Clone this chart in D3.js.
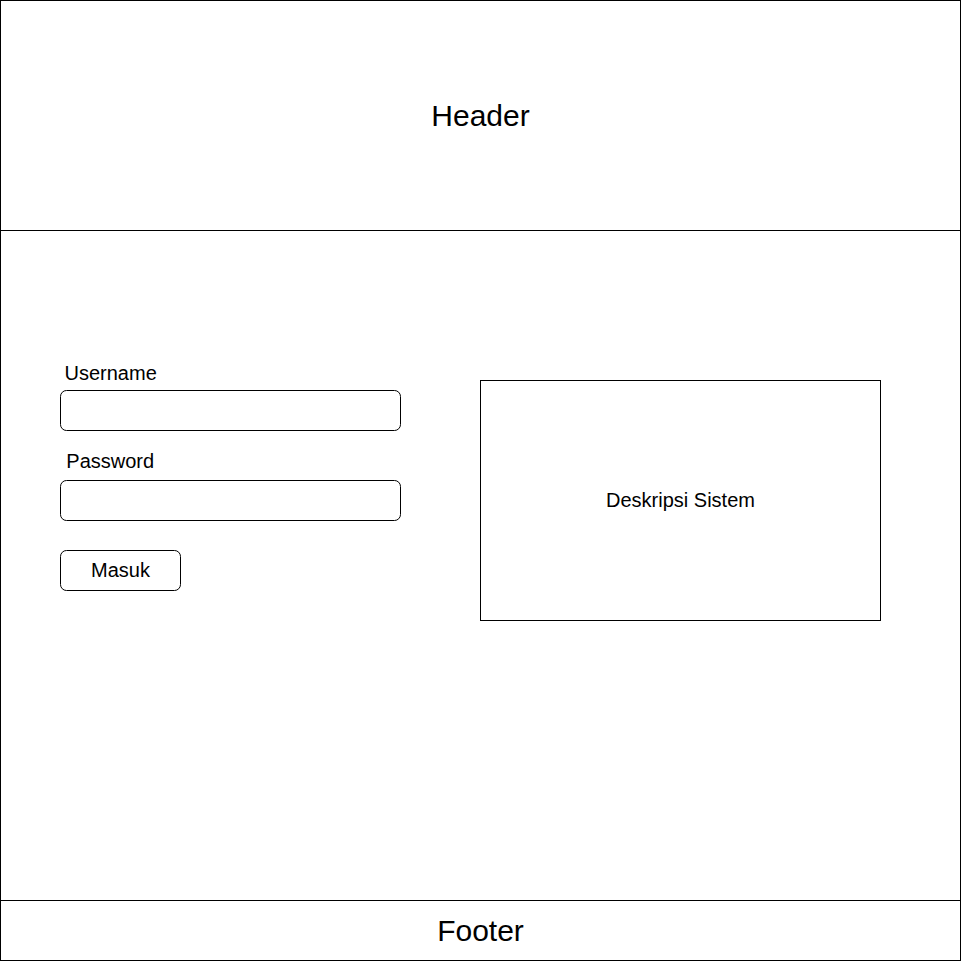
<!DOCTYPE html>
<html>
<head>
<meta charset="utf-8">
<script src="https://cdn.jsdelivr.net/npm/d3@7"></script>
<style>
  html, body { margin: 0; padding: 0; background: #fff; }
  svg { display: block; }
  text { font-family: "Liberation Sans", Arial, Helvetica, sans-serif; fill: #000; }
</style>
</head>
<body>
<svg id="wire"></svg>
<script>
// wireframe values, in grid units of 10px
const sections = [ "Header", "Body", "Footer" ];
const sectionRows = [ [ 0, 23 ], [ 23, 90 ], [ 90, 96 ] ];
const fieldLabels = [ "Username", "Password" ];
const fieldRows = [ [ 39, 43 ], [ 48, 52 ] ];
const fieldCols = [ 6, 40 ];
const buttonLabel = "Masuk";
const buttonBox = [ 6, 55, 18, 59 ];
const descLabel = "Deskripsi Sistem";
const descBox = [ 48, 38, 88, 62 ];

const WIDTH = 961;
const HEIGHT = 962;

const svg = d3.select( "#wire" )
  .attr( "width", WIDTH )
  .attr( "height", HEIGHT );

const x = d3.scaleLinear().domain( [ 0, 96 ] ).range( [ 0.5, 960.5 ] );
const y = d3.scaleLinear().domain( [ 0, 96 ] ).range( [ 0.5, 960.5 ] );

// header / body / footer blocks
const blocks = svg.selectAll( "g.section" )
  .data( sections.map( ( s, i ) => ( { name: s, rows: sectionRows[i] } ) ) )
  .enter()
  .append( "g" )
  .attr( "class", "section" );

blocks.append( "rect" )
  .attr( "x", x( 0 ) )
  .attr( "y", d => y( d.rows[0] ) )
  .attr( "width", x( 96 ) - x( 0 ) )
  .attr( "height", d => y( d.rows[1] ) - y( d.rows[0] ) )
  .attr( "fill", "none" )
  .attr( "stroke", "#000" )
  .attr( "stroke-width", 1 );

blocks.filter( d => d.name !== "Body" )
  .append( "text" )
  .attr( "x", x( 48 ) )
  .attr( "y", d => ( y( d.rows[0] ) + y( d.rows[1] ) ) / 2 + 10 )
  .attr( "text-anchor", "middle" )
  .style( "font-size", "30px" )
  .text( d => d.name );

// input fields
const fields = svg.selectAll( "g.field" )
  .data( fieldLabels.map( ( l, i ) => ( { label: l, rows: fieldRows[i] } ) ) )
  .enter()
  .append( "g" )
  .attr( "class", "field" );

fields.append( "rect" )
  .attr( "x", x( fieldCols[0] ) )
  .attr( "y", d => y( d.rows[0] ) )
  .attr( "width", x( fieldCols[1] ) - x( fieldCols[0] ) )
  .attr( "height", d => y( d.rows[1] ) - y( d.rows[0] ) )
  .attr( "rx", 6 )
  .attr( "fill", "#fff" )
  .attr( "stroke", "#000" );

fields.append( "text" )
  .attr( "x", ( d, i ) => x( fieldCols[0] ) + 4 + i * 1.8 )
  .attr( "y", ( d, i ) => y( d.rows[0] ) - 10.5 - i * 2 )
  .style( "font-size", "20px" )
  .text( d => d.label );

// button
svg.append( "rect" )
  .attr( "x", x( buttonBox[0] ) )
  .attr( "y", y( buttonBox[1] ) )
  .attr( "width", x( buttonBox[2] ) - x( buttonBox[0] ) )
  .attr( "height", y( buttonBox[3] ) - y( buttonBox[1] ) )
  .attr( "rx", 6 )
  .attr( "fill", "#fff" )
  .attr( "stroke", "#000" );

svg.append( "text" )
  .attr( "x", ( x( buttonBox[0] ) + x( buttonBox[2] ) ) / 2 )
  .attr( "y", ( y( buttonBox[1] ) + y( buttonBox[3] ) ) / 2 + 6.5 )
  .attr( "text-anchor", "middle" )
  .style( "font-size", "20px" )
  .text( buttonLabel );

// description box
svg.append( "rect" )
  .attr( "x", x( descBox[0] ) )
  .attr( "y", y( descBox[1] ) )
  .attr( "width", x( descBox[2] ) - x( descBox[0] ) )
  .attr( "height", y( descBox[3] ) - y( descBox[1] ) )
  .attr( "fill", "#fff" )
  .attr( "stroke", "#000" );

svg.append( "text" )
  .attr( "x", ( x( descBox[0] ) + x( descBox[2] ) ) / 2 )
  .attr( "y", ( y( descBox[1] ) + y( descBox[3] ) ) / 2 + 6.5 )
  .attr( "text-anchor", "middle" )
  .style( "font-size", "20px" )
  .text( descLabel );
</script>
</body>
</html>
